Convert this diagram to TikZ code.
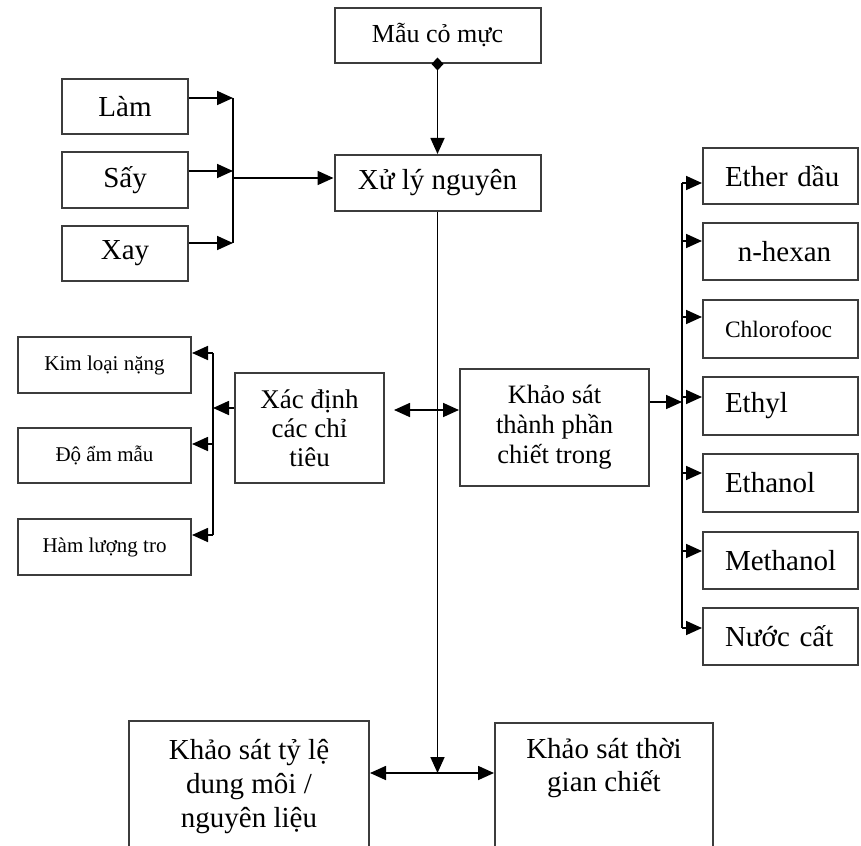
\documentclass[tikz,border=0pt]{standalone}
\usepackage{fontspec}
\setmainfont{Liberation Serif}
\usepackage{tikz}
\usepackage{xcolor}
\usetikzlibrary{arrows.meta}
\definecolor{boxgray}{RGB}{60, 60, 60}
\newcommand{\fsBig}{\fontsize{29}{34}\selectfont}
\newcommand{\fsMid}{\fontsize{26.5}{30}\selectfont}
\newcommand{\fsSmall}{\fontsize{21}{24}\selectfont}
\tikzset{
    flowbox/.style={rectangle, draw=boxgray, line width=2pt, inner sep=0pt, align=center, font=\fsBig},
    sidebox/.style={flowbox, minimum width=126pt, minimum height=55pt},
    testbox/.style={flowbox, minimum width=173pt, minimum height=56pt, font=\fsSmall},
    solvbox/.style={flowbox, minimum width=155pt, minimum height=57pt, inner xsep=14pt, text width=127pt, align=left, execute at begin node={\hspace*{8pt}}},
    arr/.style={line width=1.7pt, -{Triangle[length=16pt, width=14pt]}},
    bus/.style={line width=1.7pt}
}

\begin{document}
\begin{tikzpicture}[x=1pt, y=-1pt]
    \useasboundingbox (0,0) rectangle (861,845);
    % main column
    \node[flowbox, minimum width=206pt, minimum height=55pt, font=\fontsize{26}{30}\selectfont] (mau) at (437.5,35.5) {Mẫu cỏ mực};
    \node[flowbox, minimum width=206pt, minimum height=56pt] (xuly) at (437.5,183) {Xử lý nguyên};
    \node[sidebox] (lam) at (125,107) {Làm};
    \node[sidebox] (say) at (125,180) {Sấy};
    \node[sidebox] (xay) at (125,253.5) {Xay};
    \node[testbox] (kimloai) at (104.5,365) {Kim loại nặng};
    \node[testbox, minimum height=55pt] (doam) at (104.5,455.5) {Độ ẩm mẫu};
    \node[testbox] (hamluong) at (104.5,547) {Hàm lượng tro};
    \node[flowbox, minimum width=149pt, minimum height=110pt, font=\fontsize{27}{29}\selectfont] (xacdinh) at (309.5,428) {Xác định\\các chỉ\\tiêu};
    \node[flowbox, minimum width=189pt, minimum height=117pt, font=\fsMid] (khaosat) at (554.5,427) {Khảo sát\\thành phần\\chiết trong};
    % solvents
    \node[solvbox, minimum height=55pt] (ether) at (780.5,176) {Ether dầu};
    \node[solvbox, align=center] (nhexan) at (780.5,251.5) {n-hexan};
    \node[solvbox, minimum height=58pt, font=\fontsize{23.5}{27}\selectfont] (chloro) at (780.5,329) {Chlorofooc};
    \node[solvbox, minimum height=58pt] (ethyl) at (780.5,406) {Ethyl};
    \node[solvbox, minimum height=58pt] (ethanol) at (780.5,483) {Ethanol};
    \node[solvbox] (methanol) at (780.5,560.5) {Methanol};
    \node[solvbox] (nuoccat) at (780.5,636.5) {Nước cất};
    % bottom row, cut by the page edge
    \node[flowbox, anchor=north, minimum width=240pt, minimum height=132pt] (tyle) at (249,720) {Khảo sát tỷ lệ\\dung môi /\\nguyên liệu};
    \node[flowbox, anchor=north, minimum width=218pt, inner ysep=10pt, text height=58pt, text depth=50pt, font=\fontsize{29}{33}\selectfont] (tgian) at (604,722) {Khảo sát thời\\gian chiết};

    % bus points
    \coordinate (busA1) at (233,98);
    \coordinate (busA2) at (233,171);
    \coordinate (busA3) at (233,243);
    \coordinate (busAm) at (233,178);
    \coordinate (busB1) at (213,353);
    \coordinate (busB2) at (213,444);
    \coordinate (busB3) at (213,535);
    \coordinate (busBm) at (213,408);
    \coordinate (hub1) at (437.5,410);
    \coordinate (hub2) at (437.5,773);
    \coordinate (busC0) at (682,402);
    \coordinate (busC1) at (682,183);
    \coordinate (busC2) at (682,241);
    \coordinate (busC3) at (682,317);
    \coordinate (busC4) at (682,397);
    \coordinate (busC5) at (682,473);
    \coordinate (busC6) at (682,551);
    \coordinate (busC7) at (682,628);

    \draw[line width=1.7pt, {Diamond[length=13pt, width=12pt]}-{Triangle[length=16pt, width=14pt]}] ([yshift=6.5pt]mau.south) -- (xuly.north);
    \draw[arr] (xuly.south) -- (hub2);

    % pre-treatment
    \draw[bus] (busA1) -- (busA3);
    \draw[arr] (busA1 -| lam.east) -- (busA1);
    \draw[arr] (busA2 -| say.east) -- (busA2);
    \draw[arr] (busA3 -| xay.east) -- (busA3);
    \draw[arr] (busAm) -- (busAm -| xuly.west);

    % quality tests
    \draw[arr, shorten >=9pt] (hub1) -- (hub1 -| xacdinh.east);
    \draw[arr] (hub1) -- (hub1 -| khaosat.west);
    \draw[bus] (busB1) -- (busB3);
    \draw[arr] (busBm -| xacdinh.west) -- (busBm);
    \draw[arr] (busB1) -- (busB1 -| kimloai.east);
    \draw[arr] (busB2) -- (busB2 -| doam.east);
    \draw[arr] (busB3) -- (busB3 -| hamluong.east);

    % solvents
    \draw[arr] (busC0 -| khaosat.east) -- (busC0);
    \draw[bus] (busC1) -- (busC7);
    \draw[arr] (busC1) -- (busC1 -| ether.west);
    \draw[arr] (busC2) -- (busC2 -| nhexan.west);
    \draw[arr] (busC3) -- (busC3 -| chloro.west);
    \draw[arr] (busC4) -- (busC4 -| ethyl.west);
    \draw[arr] (busC5) -- (busC5 -| ethanol.west);
    \draw[arr] (busC6) -- (busC6 -| methanol.west);
    \draw[arr] (busC7) -- (busC7 -| nuoccat.west);

    % extraction conditions
    \draw[arr] (hub2) -- (hub2 -| tyle.east);
    \draw[arr] (hub2) -- (hub2 -| tgian.west);
\end{tikzpicture}
\end{document}
